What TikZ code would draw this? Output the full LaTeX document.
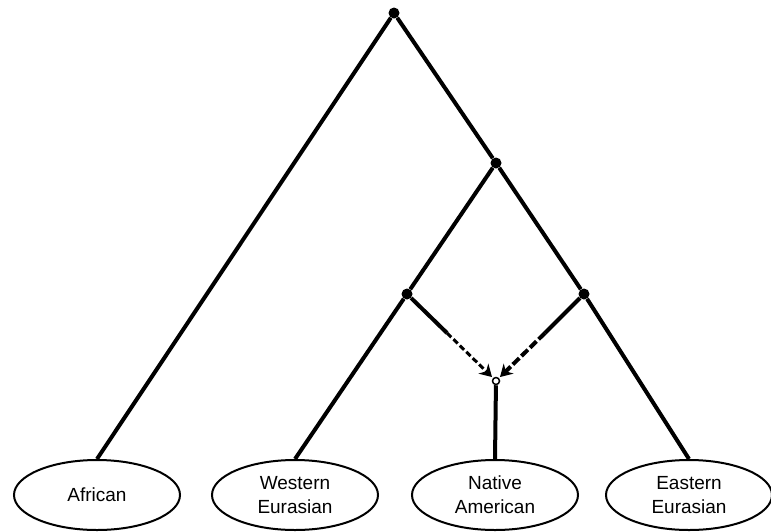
\documentclass[tikz,border=0pt]{standalone}
\usepackage{fontspec}
\setmainfont{Liberation Sans}
\usepackage{tikz}
\usetikzlibrary{shapes.geometric,arrows.meta}

\tikzset{
  branch/.style={line width=4pt},
  split/.style={circle,fill=black,inner sep=0pt,minimum size=11pt},
  mixpt/.style={circle,draw=black,fill=white,line width=1.5pt,inner sep=0pt,minimum size=7pt},
  pop/.style={ellipse,draw,line width=2pt,minimum width=166pt,minimum height=70pt,
    inner sep=0pt,align=center,font=\fontsize{19}{24}\selectfont},
  admix/.style={line width=3pt,-{Stealth[length=12pt,width=14pt]}}
}

\begin{document}
\begin{tikzpicture}[x=1pt, y=-1pt]
\useasboundingbox (0,0) rectangle (771,531);
% splits
\node[split] (root) at (394,13) {};
\node[split] (amer) at (496,163) {};
\node[split] (west) at (407,294) {};
\node[split] (east) at (584,294) {};
% populations
\node[pop] (afr) at (97,495) {African};
\node[pop] (weu) at (295,495) {Western\\Eurasian};
\node[pop] (nam) at (495,495) {Native\\American};
\node[pop] (eeu) at (689,495) {Eastern\\Eurasian};
% admixture point
\node[mixpt] (mix) at (496,381) {};
\coordinate (lbrk) at (447,333);
\coordinate (rbrk) at (545,333);
\coordinate (ltip) at (492,377);
\coordinate (rtip) at (500,377);
% tree
\draw[branch] (root) -- (afr.north);
\draw[branch] (root) -- (amer);
\draw[branch] (amer) -- (west);
\draw[branch] (amer) -- (east);
\draw[branch] (west) -- (weu.north);
\draw[branch] (east) -- (eeu.north);
\draw[branch] (mix) -- (nam.north);
% admixture edges
\draw[branch] (west) -- (lbrk);
\draw[branch] (east) -- (rbrk);
\draw[admix,dash pattern=on 6pt off 3pt] (lbrk) -- (ltip);
\draw[admix,line width=4pt,dash pattern=on 9pt off 3pt] (rbrk) -- (rtip);
\end{tikzpicture}
\end{document}
